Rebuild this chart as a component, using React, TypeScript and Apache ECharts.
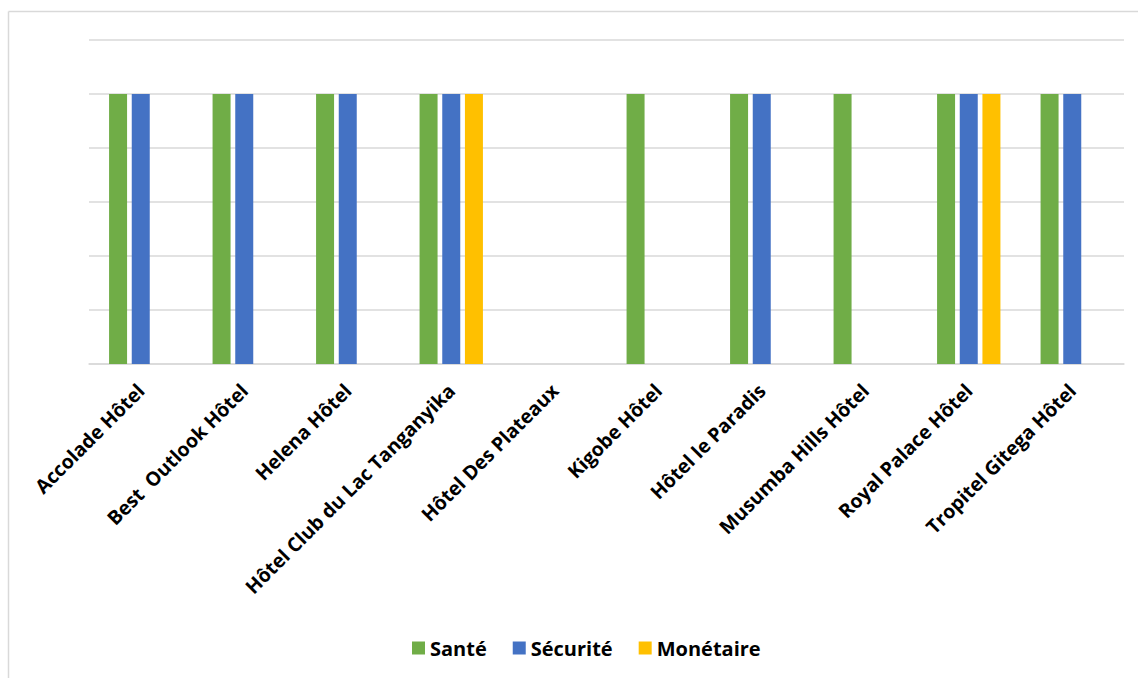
import React, { useEffect, useRef } from "react";
import * as echarts from "echarts";

const categories = [
  "Accolade Hôtel",
  "Best  Outlook Hôtel",
  "Helena Hôtel",
  "Hôtel Club du Lac Tanganyika",
  "Hôtel Des Plateaux",
  "Kigobe Hôtel",
  "Hôtel le Paradis",
  "Musumba Hills Hôtel",
  "Royal Palace Hôtel",
  "Tropitel Gitega Hôtel",
];
const sante = [1, 1, 1, 1, 0, 1, 1, 1, 1, 1];
const securite = [1, 1, 1, 1, 0, 0, 1, 0, 1, 1];
const monetaire = [0, 0, 0, 1, 0, 0, 0, 0, 1, 0];

const FONT = "'Open Sans', sans-serif";

export default function App() {
  const ref = useRef<HTMLDivElement>(null);
  useEffect(() => {
    if (!ref.current) return;
    const chart = echarts.init(ref.current, null, { renderer: "svg" });
    const mk = (name: string, data: number[], color: string) => ({
      name,
      type: "bar",
      data,
      barWidth: 18,
      barGap: "26%",
      itemStyle: { color },
    });
    chart.setOption({
      animation: false,
      backgroundColor: "#ffffff",
      graphic: [
        { type: "line", shape: { x1: 8.5, y1: 11.5, x2: 1138, y2: 11.5 }, style: { stroke: "#d9d9d9", lineWidth: 1.5 } },
        { type: "line", shape: { x1: 8.5, y1: 11.5, x2: 8.5, y2: 678 }, style: { stroke: "#d9d9d9", lineWidth: 1.5 } },
      ],
      grid: { left: 89, right: 14, top: 40, bottom: 314, containLabel: false },
      legend: {
        left: 407,
        top: 633,
        icon: "rect",
        itemWidth: 13,
        itemHeight: 13,
        itemGap: 26,
        textStyle: { fontFamily: FONT, fontWeight: "bold", fontSize: 20, color: "#000" },
        data: ["Santé", "Sécurité", "Monétaire"],
      },
      xAxis: {
        type: "category",
        data: categories,
        axisLine: { lineStyle: { color: "#d9d9d9", width: 1.5 } },
        axisTick: { show: false },
        axisLabel: {
          interval: 0,
          rotate: 45,
          margin: 23,
          fontFamily: FONT,
          fontWeight: "bold",
          fontSize: 19.5,
          color: "#000",
        },
      },
      yAxis: {
        type: "value",
        min: 0,
        max: 1.2,
        interval: 0.2,
        axisLabel: { show: false },
        axisLine: { show: false },
        axisTick: { show: false },
        splitLine: { lineStyle: { color: "#d9d9d9", width: 1.5 } },
      },
      series: [
        mk("Santé", sante, "#70AD47"),
        mk("Sécurité", securite, "#4472C4"),
        mk("Monétaire", monetaire, "#FFC000"),
      ],
    });
    return () => chart.dispose();
  }, []);
  return (
    <div
      ref={ref}
      style={{ position: "fixed", left: 0, top: 0, width: 1138, height: 678 }}
    />
  );
}
